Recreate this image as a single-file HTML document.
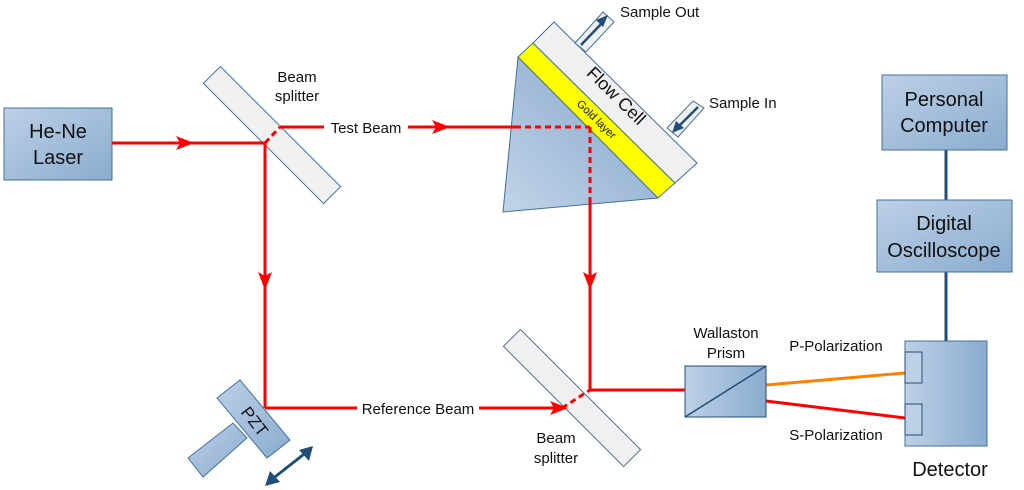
<!DOCTYPE html>
<html><head><meta charset="utf-8"><style>
html,body{margin:0;padding:0;background:#fff}
svg{display:block}
text{font-family:"Liberation Sans",sans-serif;fill:#111}
</style></head><body>
<svg width="1024" height="490" viewBox="0 0 1024 490" xmlns="http://www.w3.org/2000/svg">
<defs>
<linearGradient id="bg" x1="0" y1="0" x2="1" y2="1">
<stop offset="0" stop-color="#bdd0e6"/><stop offset="1" stop-color="#8aaccf"/></linearGradient>
<linearGradient id="bgh" x1="0" y1="0" x2="1" y2="0">
<stop offset="0" stop-color="#bdd0e6"/><stop offset="1" stop-color="#8aaccf"/></linearGradient>
<linearGradient id="pr" x1="0" y1="1" x2="1" y2="0">
<stop offset="0" stop-color="#c2d4e8"/><stop offset="1" stop-color="#7fa3c9"/></linearGradient>
</defs>

<!-- Laser -->
<rect x="4" y="108" width="108" height="72" fill="url(#bg)" stroke="#41719c"/>
<text x="58" y="138" font-size="20" text-anchor="middle">He-Ne</text>
<text x="58" y="164" font-size="20" text-anchor="middle">Laser</text>

<!-- Beam splitter 1 -->
<rect x="-85" y="-12" width="170" height="24" fill="#f0f0f0" stroke="#41719c" transform="translate(272,135) rotate(45)"/>
<text x="297" y="82" font-size="15" text-anchor="middle">Beam</text>
<text x="297" y="101" font-size="15" text-anchor="middle">splitter</text>

<!-- Beam splitter 2 -->
<rect x="-85" y="-12" width="170" height="24" fill="#f0f0f0" stroke="#41719c" transform="translate(572,398) rotate(45)"/>
<text x="556" y="443" font-size="15" text-anchor="middle">Beam</text>
<text x="556" y="463" font-size="15" text-anchor="middle">splitter</text>

<!-- Prism -->
<polygon points="518,57 503,212 658,198" fill="url(#pr)" stroke="#41719c"/>
<polygon points="518,57 533,43 675,183 658,198" fill="#ffff00" stroke="#41719c"/>
<polygon points="533,43 554,22 697,163 675,183" fill="#f0f0f0" stroke="#41719c"/>
<text font-size="18" text-anchor="middle" transform="translate(612,100) rotate(44.5)">Flow Cell</text>
<text font-size="11" text-anchor="middle" transform="translate(594,122) rotate(44.5)">Gold layer</text>
<!-- sample out tube -->
<polygon points="575,43 586,52 614,22 603,12" fill="#f0f0f0" stroke="#41719c"/>
<line x1="581" y1="45" x2="603" y2="22" stroke="#1f4e79" stroke-width="2.5"/>
<polygon points="608,15 596,20 603,27" fill="#1f4e79"/>
<text x="620" y="17" font-size="15">Sample Out</text>
<!-- sample in tube -->
<polygon points="667,128 678,137 704,108 693,101" fill="#f0f0f0" stroke="#41719c"/>
<line x1="698" y1="107" x2="677" y2="128" stroke="#1f4e79" stroke-width="2.5"/>
<polygon points="672,133 676,121 684,128" fill="#1f4e79"/>
<text x="709" y="108" font-size="15">Sample In</text>

<!-- Beams -->
<g stroke="#ff0000" stroke-width="3" fill="none">
<line x1="112" y1="143" x2="265" y2="143"/>
<line x1="265" y1="143" x2="265" y2="408"/>
<line x1="265" y1="408" x2="562" y2="408"/>
<line x1="280" y1="127" x2="515" y2="127"/>
<line x1="590" y1="200" x2="590" y2="390"/>
<line x1="590" y1="390" x2="685" y2="390"/>
<g stroke-dasharray="6,4">
<line x1="265" y1="143" x2="280" y2="127"/>
<line x1="515" y1="127" x2="590" y2="127"/>
<line x1="590" y1="127" x2="590" y2="200"/>
<line x1="562" y1="408" x2="590" y2="390"/>
<line x1="685" y1="390" x2="727" y2="391"/>
<line x1="727" y1="391" x2="766" y2="401"/>
</g>
<line x1="766" y1="401" x2="905" y2="418"/>
</g>
<line x1="727" y1="391" x2="766" y2="385" stroke="#ff7f00" stroke-width="3" stroke-dasharray="6,4"/>
<line x1="766" y1="385" x2="905" y2="373" stroke="#ff7f00" stroke-width="3"/>

<!-- Arrowheads -->
<g fill="#ff0000">
<polygon points="176,136 194,143 176,150 180,143"/>
<polygon points="432,120 450,127 432,134 436,127"/>
<polygon points="258,272 265,290 272,272 265,276"/>
<polygon points="583,272 590,290 597,272 590,276"/>
<polygon points="550,401 568,408 550,415 554,408"/>
</g>

<!-- labels on beams -->
<rect x="324" y="118" width="84" height="18" fill="#fff"/>
<text x="366" y="133" font-size="15" text-anchor="middle">Test Beam</text>
<rect x="357" y="399" width="122" height="18" fill="#fff"/>
<text x="418" y="414" font-size="15" text-anchor="middle">Reference Beam</text>

<!-- PZT -->
<polygon points="188,458 233,423 247,438 203,477" fill="url(#bg)" stroke="#41719c"/>
<polygon points="217,398 240,380 290,440 267,458" fill="url(#bg)" stroke="#41719c"/>
<text font-size="17" text-anchor="middle" transform="translate(250,425) rotate(52)">PZT</text>
<line x1="271" y1="480" x2="308" y2="451" stroke="#1f4e79" stroke-width="3"/>
<polygon points="265,486 270,471 280,482" fill="#1f4e79"/>
<polygon points="313,446 299,450 309,461" fill="#1f4e79"/>

<!-- Wallaston prism -->
<rect x="685" y="366" width="81" height="51" fill="url(#bgh)" stroke="#1f4e79"/>
<line x1="685" y1="417" x2="766" y2="366" stroke="#1f4e79" stroke-width="1.5"/>
<text x="726" y="338" font-size="15" text-anchor="middle">Wallaston</text>
<text x="726" y="358" font-size="15" text-anchor="middle">Prism</text>
<text x="836" y="351" font-size="15" text-anchor="middle">P-Polarization</text>
<text x="836" y="440" font-size="15" text-anchor="middle">S-Polarization</text>

<!-- Detector -->
<rect x="905" y="341" width="82" height="105" fill="url(#bgh)" stroke="#41719c"/>
<rect x="905" y="352" width="17" height="31" fill="#bdd0e6" stroke="#1f4e79"/>
<rect x="905" y="404" width="17" height="31" fill="#bdd0e6" stroke="#1f4e79"/>
<text x="950" y="476" font-size="20" text-anchor="middle">Detector</text>

<!-- PC & scope -->
<line x1="946" y1="150" x2="946" y2="200" stroke="#1f4e79" stroke-width="3"/>
<line x1="946" y1="272" x2="946" y2="341" stroke="#1f4e79" stroke-width="3"/>
<rect x="882" y="75" width="125" height="75" fill="url(#bg)" stroke="#41719c"/>
<text x="944" y="106" font-size="20" text-anchor="middle">Personal</text>
<text x="944" y="132" font-size="20" text-anchor="middle">Computer</text>
<rect x="877" y="200" width="135" height="72" fill="url(#bg)" stroke="#41719c"/>
<text x="944" y="230" font-size="20" text-anchor="middle">Digital</text>
<text x="944" y="257" font-size="20" text-anchor="middle">Oscilloscope</text>
</svg>
</body></html>
